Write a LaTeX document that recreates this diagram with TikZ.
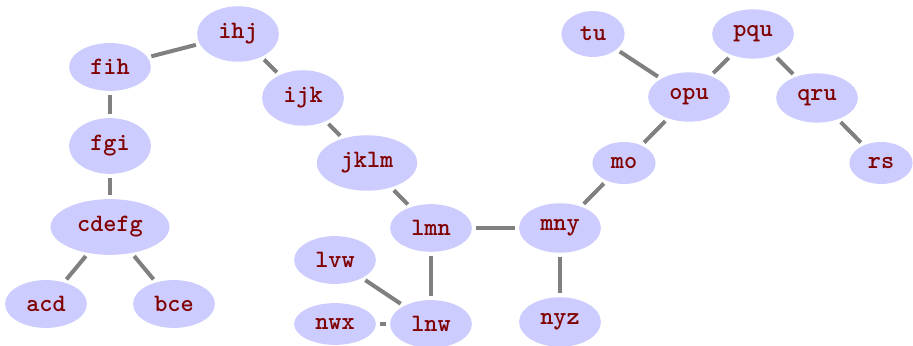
\documentclass[tikz,border=0pt]{standalone}
\usetikzlibrary{shapes.geometric}
\begin{document}
\begin{tikzpicture}[x=0.4237pt,y=-0.4237pt,
  vert/.style={ellipse,fill=blue!20,inner sep=3.9pt,
    font=\ttfamily\bfseries\fontsize{10.6}{12}\selectfont,text=red!50!black},
  link/.style={draw=gray,line width=1.7pt,shorten <=1.5pt,shorten >=1.5pt}]
\useasboundingbox (0,0) rectangle (913,346);
% left tree
\node[vert] (ihj)   at (238,34)  {ihj};
\node[vert] (fih)   at (110,67)  {fih};
\node[vert] (fgi)   at (110,146) {fgi};
\node[vert] (cdefg) at (110,227) {cdefg};
\node[vert] (acd)   at (46,304)  {acd};
\node[vert] (bce)   at (174,304) {bce};
% descending chain
\node[vert] (ijk)   at (303,98)  {ijk};
\node[vert] (jklm)  at (367,163) {jklm};
\node[vert] (lmn)   at (431,228) {lmn};
\node[vert] (lvw)   at (335,260) {lvw};
\node[vert] (nwx)   at (335,324) {nwx};
\node[vert] (lnw)   at (431,324) {lnw};
% right tree
\node[vert] (mny)   at (560,228) {mny};
\node[vert] (nyz)   at (560,322) {nyz};
\node[vert] (mo)    at (624,163) {mo};
\node[vert] (opu)   at (689,97)  {opu};
\node[vert] (tu)    at (593,34)  {tu};
\node[vert] (pqu)   at (753,34)  {pqu};
\node[vert] (qru)   at (817,98)  {qru};
\node[vert] (rs)    at (881,163) {rs};
% connections
\draw[link] (ihj) -- (fih);
\draw[link] (fih) -- (fgi);
\draw[link] (fgi) -- (cdefg);
\draw[link] (cdefg) -- (acd);
\draw[link] (cdefg) -- (bce);
\draw[link] (ihj) -- (ijk);
\draw[link] (ijk) -- (jklm);
\draw[link] (jklm) -- (lmn);
\draw[link] (lmn) -- (lnw);
\draw[link] (lvw) -- (lnw);
\draw[link] (nwx) -- (lnw);
\draw[link] (lmn) -- (mny);
\draw[link] (mny) -- (nyz);
\draw[link] (mny) -- (mo);
\draw[link] (mo) -- (opu);
\draw[link] (opu) -- (tu);
\draw[link] (opu) -- (pqu);
\draw[link] (pqu) -- (qru);
\draw[link] (qru) -- (rs);
\end{tikzpicture}
\end{document}
